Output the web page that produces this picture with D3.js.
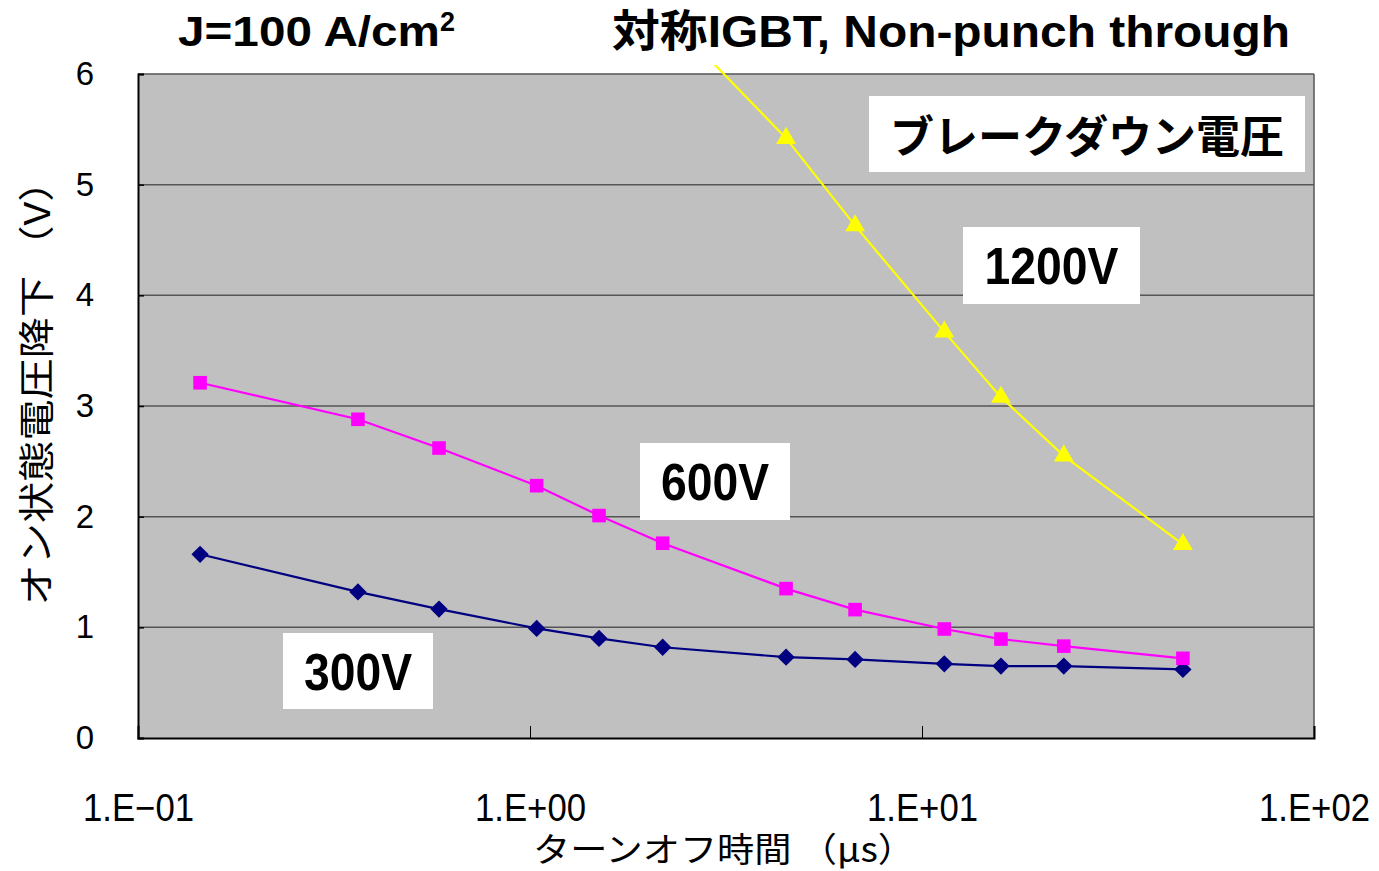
<!DOCTYPE html>
<html><head><meta charset="utf-8">
<script src="https://cdn.jsdelivr.net/npm/d3@7"></script>
<style>body{margin:0;background:#fff}svg{display:block}</style>
</head><body>
<svg id="c" width="1379" height="871"></svg>
<script>
const timeUs = [0.144,0.364,0.586,1.04,1.50,2.18,4.50,6.75,11.4,15.9,23.0,46.3];
const v300 = [1.66,1.32,1.165,0.99,0.90,0.82,0.73,0.71,0.67,0.65,0.65,0.62];
const v600 = [3.21,2.88,2.62,2.28,2.01,1.76,1.35,1.16,0.985,0.894,0.83,0.72];
const v1200 = [null,null,null,null,null,6.57,5.42,4.63,3.67,3.08,2.55,1.75];
const xTicks = [0.1,1,10,100];
const xTickLabels = ["1.E\u221201","1.E+00","1.E+01","1.E+02"];
const yTicks = [0,1,2,3,4,5,6];
const seriesNames = ["300V","600V","1200V"];
const seriesColors = ["#000080","#ff00ff","#ffff00"];
const seriesShapes = ["diamond","square","triangle"];

const svg = d3.select("#c");
const L=138, R=1314, T=74, B=738;
const x = d3.scaleLog().domain([0.1,100]).range([L,R]);
const y = d3.scaleLinear().domain([0,6]).range([B,T]);

svg.append("rect").attr("x",L).attr("y",T).attr("width",R-L).attr("height",B-T).attr("fill","#c0c0c0");
svg.append("g").selectAll("line").data(yTicks.filter(d=>d>0&&d<6)).join("line")
  .attr("x1",L).attr("x2",R).attr("y1",d=>y(d)).attr("y2",d=>y(d))
  .attr("stroke","#555").attr("stroke-width",1.5);
svg.append("line").attr("x1",L).attr("x2",R).attr("y1",T).attr("y2",T).attr("stroke","#555").attr("stroke-width",1.5);
svg.append("line").attr("x1",R).attr("x2",R).attr("y1",T).attr("y2",B).attr("stroke","#555").attr("stroke-width",1.5);

const yAxis = d3.axisLeft(y).tickValues(yTicks).tickSize(-6).tickFormat(d3.format("d")).tickPadding(44);
const gy = svg.append("g").attr("transform",`translate(${L},0)`).call(yAxis);
gy.select(".domain").attr("stroke","#000").attr("stroke-width",2);
gy.selectAll(".tick line").attr("stroke","#000").attr("stroke-width",1.5);
gy.selectAll("text").attr("font-family","Liberation Sans, Arial, sans-serif").attr("font-size",33).attr("fill","#000");

const xAxis = d3.axisBottom(x).tickValues(xTicks).tickSize(-12).tickFormat((d,i)=>xTickLabels[i]).tickPadding(56);
const gx = svg.append("g").attr("transform",`translate(0,${B})`).call(xAxis);
gx.select(".domain").attr("stroke","#000").attr("stroke-width",2);
gx.selectAll(".tick line").attr("stroke","#000").attr("stroke-width",1);
gx.selectAll("text").attr("font-family","Liberation Sans, Arial, sans-serif").attr("font-size",38).attr("fill","#000")
  .attr("textLength",111).attr("lengthAdjust","spacingAndGlyphs");

svg.append("clipPath").attr("id","clip").append("rect").attr("x",L).attr("y",T-9).attr("width",R-L).attr("height",B-T+9);

const allSeries = [v300,v600,v1200];
const line = d3.line().defined(d=>d[1]!=null).x(d=>x(d[0])).y(d=>y(d[1]));
const diamond = {draw(ctx,size){const r=Math.sqrt(size/2);ctx.moveTo(0,-r);ctx.lineTo(r,0);ctx.lineTo(0,r);ctx.lineTo(-r,0);ctx.closePath();}};
const symMap = {diamond:diamond, square:d3.symbolSquare, triangle:d3.symbolTriangle};
const symSize = {diamond:150, square:185, triangle:170};

allSeries.forEach((vals,i)=>{
  const pts = timeUs.map((t,j)=>[t,vals[j]]);
  const g = svg.append("g");
  g.append("path").datum(pts).attr("d",line).attr("fill","none")
    .attr("stroke",seriesColors[i]).attr("stroke-width",2.2).attr("clip-path","url(#clip)");
  g.selectAll("path.m").data(pts.filter(d=>d[1]!=null && d[1]<=6)).join("path").attr("class","m")
    .attr("transform",d=>`translate(${x(d[0])},${y(d[1])})`)
    .attr("d",d3.symbol().type(symMap[seriesShapes[i]]).size(symSize[seriesShapes[i]]))
    .attr("fill",seriesColors[i]);
});

const boxes = [
  {t:"ブレークダウン電圧", x:869, y:96, w:436, h:76, fs:44, tl:394, dy:3},
  {t:"1200V", x:963, y:227, w:177, h:77, fs:52, tl:134, dy:0},
  {t:"600V", x:640, y:443, w:150, h:77, fs:52, tl:108, dy:0},
  {t:"300V", x:283, y:633, w:150, h:76, fs:52, tl:108, dy:0}
];
boxes.forEach(b=>{
  svg.append("rect").attr("x",b.x).attr("y",b.y).attr("width",b.w).attr("height",b.h).attr("fill","#fff");
  svg.append("text").attr("x",b.x+b.w/2).attr("y",b.y+b.h/2+b.fs*0.36+b.dy).attr("text-anchor","middle")
    .attr("font-family","Liberation Sans, Arial, 'Noto Sans CJK JP', sans-serif").attr("font-weight","bold")
    .attr("font-size",b.fs).attr("textLength",b.tl).attr("lengthAdjust","spacingAndGlyphs").text(b.t);
});

const t1 = svg.append("text").attr("x",178).attr("y",46).attr("font-family","Liberation Sans, Arial, sans-serif")
  .attr("font-weight","bold").attr("font-size",43);
t1.append("tspan").attr("textLength",262).attr("lengthAdjust","spacingAndGlyphs").text("J=100 A/cm");
t1.append("tspan").attr("dy",-15).attr("font-size",27).text("2");
svg.append("text").attr("x",612).attr("y",47).attr("font-family","Liberation Sans, Arial, 'Noto Sans CJK JP', sans-serif")
  .attr("font-weight","bold").attr("font-size",44).attr("textLength",678).attr("lengthAdjust","spacingAndGlyphs")
  .text("対称IGBT, Non-punch through");

svg.append("text").attr("transform","translate(50,383) rotate(-90)").attr("text-anchor","middle")
  .attr("font-family","'Noto Sans CJK JP', sans-serif").attr("font-size",36).attr("textLength",445).attr("lengthAdjust","spacingAndGlyphs")
  .text("オン状態電圧降下 （V）");
svg.append("text").attr("x",724).attr("y",862).attr("text-anchor","middle")
  .attr("font-family","'Noto Sans CJK JP', sans-serif").attr("font-size",34).attr("textLength",382).attr("lengthAdjust","spacingAndGlyphs")
  .text("ターンオフ時間 （μs）");
</script>
</body></html>
